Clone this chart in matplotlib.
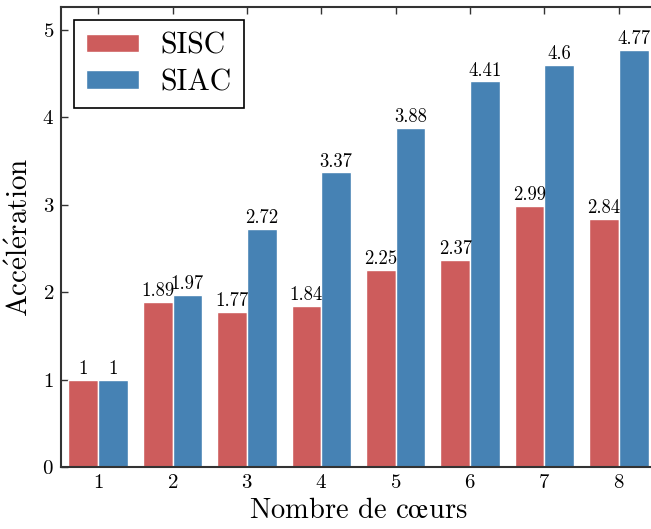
import numpy as np
from matplotlib import pyplot as plt

plt.rcParams['font.family'] = ['cmr10', 'DejaVu Serif']
plt.rcParams['mathtext.fontset'] = 'cm'
plt.rcParams['axes.formatter.use_mathtext'] = True

cores = [1, 2, 3, 4, 5, 6, 7, 8]
sisc = [1, 1.89, 1.77, 1.84, 2.25, 2.37, 2.99, 2.84]
siac = [1, 1.97, 2.72, 3.37, 3.88, 4.41, 4.6, 4.77]
sisc_labels = ["1", "1.89", "1.77", "1.84", "2.25", "2.37", "2.99", "2.84"]
siac_labels = ["1", "1.97", "2.72", "3.37", "3.88", "4.41", "4.6", "4.77"]

fig = plt.figure(figsize=(6.51, 5.29), dpi=100)
ax = fig.add_axes([61 / 651, 1 - 467 / 529, (656 - 61) / 651, (467 - 7) / 529])

x = np.array(cores)
w = 0.4
b1 = ax.bar(x - w / 2, sisc, w, color="#cd5c5c", edgecolor="white", linewidth=1, label="SISC", zorder=2)
b2 = ax.bar(x + w / 2, siac, w, color="#4682b4", edgecolor="white", linewidth=1, label="SIAC", zorder=2)

for rect, t in zip(b1, sisc_labels):
    ax.text(rect.get_x() + rect.get_width() / 2, rect.get_height() + 0.02, t,
            ha="center", va="bottom", fontsize=13.5)
for rect, t in zip(b2, siac_labels):
    ax.text(rect.get_x() + rect.get_width() / 2, rect.get_height() + 0.02, t,
            ha="center", va="bottom", fontsize=13.5)

ax.set_xlim(0.5, 8.5)
ax.set_ylim(0, 5.26)
ax.set_xticks(cores)
ax.set_yticks([0, 1, 2, 3, 4, 5])
ax.tick_params(direction="in", top=True, right=False, length=5, width=1,
               color="#333333", labelsize=15, pad=5)
for s in ax.spines.values():
    s.set_color("#333333")
    s.set_linewidth(1.5)

ax.set_ylabel(r"$\mathrm{Acc\'el\'eration}$", fontsize=21, labelpad=6)
ax.set_xlabel(r"Nombre de c$\mathrm{\oe}$urs", fontsize=20.5, labelpad=4)

leg = ax.legend(loc="upper left", fontsize=21.5, fancybox=False, framealpha=1,
                edgecolor="black", borderaxespad=0.45, handlelength=1.75,
                handleheight=0.57, handletextpad=0.73, labelspacing=0.3,
                borderpad=0.4)
leg.get_frame().set_linewidth(1.2)

plt.savefig("out.png", dpi=100)
